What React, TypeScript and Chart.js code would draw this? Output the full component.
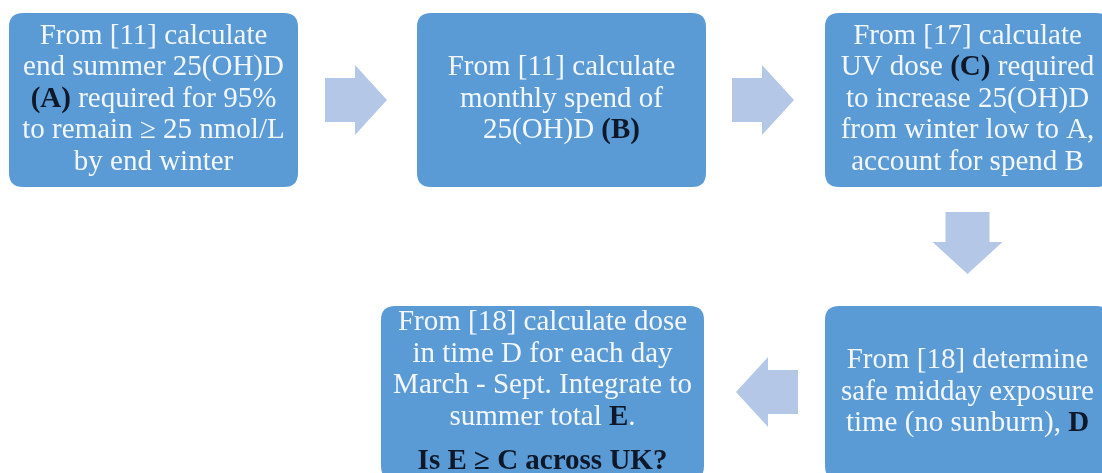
import React, { useEffect, useRef } from 'react';
import { Chart, registerables } from 'chart.js';

Chart.register(...registerables);

// ---- Flowchart content (steps), text uses **...** for dark bold runs, '' for a paragraph gap
const stepNames = ['A', 'B', 'C', 'D', 'E'];
const stepText: string[][] = [
  ['From [11] calculate', 'end summer 25(OH)D', '**(A)** required for 95%', 'to remain ≥ 25 nmol/L', 'by end winter'],
  ['From [11] calculate', 'monthly spend of', '25(OH)D **(B)**'],
  ['From [17] calculate', 'UV dose **(C)** required', 'to increase 25(OH)D', 'from winter low to A,', 'account for spend B'],
  ['From [18] determine', 'safe midday exposure', 'time (no sunburn), **D**'],
  ['From [18] calculate dose', 'in time D for each day', 'March - Sept. Integrate to', 'summer total **E**.', '', '**Is E ≥ C across UK?**'],
];

// node centres on the diagram grid (x: 0..1102, y: 0..473)
const nodeX = [153.5, 561.5, 967.5, 967.5, 542.5];
const nodeY = [100, 100, 100, 393, 393];
const nodeW = [289, 289, 285, 285, 323];
const nodeH = [174, 174, 174, 174, 174];

// connectors between steps
const arrowX = [356, 763, 967.5, 767];
const arrowY = [100, 100, 243, 392];
const arrowDir = ['right', 'right', 'down', 'left'];

const BOX_COLOR = '#5B9BD5';
const ARROW_COLOR = '#B4C7E7';
const TEXT_COLOR = '#F3F7FC';
const DARK_COLOR = '#0E1828';
const FONT = "'Liberation Serif', 'Times New Roman', serif";
const FONT_SIZE = 29;
const LINE_H = 31.5;
const PARA_GAP = 13;
const BASELINE_OFFSET = 6.5;

function parseSegs(line: string) {
  const parts = line.split('**');
  return parts.map((t, i) => ({ t, b: i % 2 === 1 })).filter((s) => s.t.length > 0);
}

function roundRect(ctx: CanvasRenderingContext2D, x: number, y: number, w: number, h: number, r: number) {
  ctx.beginPath();
  ctx.moveTo(x + r, y);
  ctx.lineTo(x + w - r, y);
  ctx.quadraticCurveTo(x + w, y, x + w, y + r);
  ctx.lineTo(x + w, y + h - r);
  ctx.quadraticCurveTo(x + w, y + h, x + w - r, y + h);
  ctx.lineTo(x + r, y + h);
  ctx.quadraticCurveTo(x, y + h, x, y + h - r);
  ctx.lineTo(x, y + r);
  ctx.quadraticCurveTo(x, y, x + r, y);
  ctx.closePath();
}

const flowPlugin = {
  id: 'flowchart',
  afterDatasetsDraw(chart: any) {
    const ctx: CanvasRenderingContext2D = chart.ctx;
    const xs = chart.scales.x;
    const ys = chart.scales.y;
    const px = (v: number) => xs.getPixelForValue(v);
    const py = (v: number) => ys.getPixelForValue(v);
    ctx.save();

    // arrows
    const ALEN = 62, ABREADTH = 70, SHAFT = 44, HEAD = 32;
    ctx.fillStyle = ARROW_COLOR;
    arrowX.forEach((ax, i) => {
      const cx = px(ax), cy = py(arrowY[i]);
      const sx = px(ax + 1) - px(ax);
      const L = ALEN * sx, B = ABREADTH * sx, S = SHAFT * sx, H = HEAD * sx;
      const pts: [number, number][] = [
        [-L / 2, -S / 2], [L / 2 - H, -S / 2], [L / 2 - H, -B / 2], [L / 2, 0],
        [L / 2 - H, B / 2], [L / 2 - H, S / 2], [-L / 2, S / 2],
      ];
      const d = arrowDir[i];
      ctx.beginPath();
      pts.forEach(([u, v], k) => {
        let X = 0, Y = 0;
        if (d === 'right') { X = cx + u; Y = cy + v; }
        else if (d === 'left') { X = cx - u; Y = cy + v; }
        else if (d === 'down') { X = cx + v; Y = cy + u; }
        else { X = cx + v; Y = cy - u; }
        if (k === 0) ctx.moveTo(X, Y); else ctx.lineTo(X, Y);
      });
      ctx.closePath();
      ctx.fill();
    });

    // boxes + text
    stepNames.forEach((_, i) => {
      const x0 = px(nodeX[i] - nodeW[i] / 2);
      const x1 = px(nodeX[i] + nodeW[i] / 2);
      const y0 = py(nodeY[i] - nodeH[i] / 2);
      const y1 = py(nodeY[i] + nodeH[i] / 2);
      ctx.fillStyle = BOX_COLOR;
      roundRect(ctx, x0, y0, x1 - x0, y1 - y0, 14);
      ctx.fill();

      const lines = stepText[i];
      const heights = lines.map((l) => (l === '' ? PARA_GAP : LINE_H));
      const total = heights.reduce((a, b) => a + b, 0);
      let cursor = py(nodeY[i]) - total / 2;
      const cx = px(nodeX[i]);
      ctx.textBaseline = 'alphabetic';
      ctx.textAlign = 'left';
      lines.forEach((line, k) => {
        if (line === '') { cursor += PARA_GAP; return; }
        const by = cursor + LINE_H / 2 + BASELINE_OFFSET;
        const segs = parseSegs(line);
        const widths = segs.map((s) => {
          ctx.font = `${s.b ? 'bold ' : ''}${FONT_SIZE}px ${FONT}`;
          return ctx.measureText(s.t).width;
        });
        const tw = widths.reduce((a, b) => a + b, 0);
        let x = cx - tw / 2;
        segs.forEach((s, j) => {
          ctx.font = `${s.b ? 'bold ' : ''}${FONT_SIZE}px ${FONT}`;
          ctx.fillStyle = s.b ? DARK_COLOR : TEXT_COLOR;
          ctx.fillText(s.t, x, by);
          x += widths[j];
        });
        cursor += heights[k];
      });
    });
    ctx.restore();
  },
};

export default function App() {
  const ref = useRef<HTMLCanvasElement | null>(null);
  useEffect(() => {
    document.body.style.margin = '0';
    document.body.style.background = '#ffffff';
    const canvas = ref.current;
    if (!canvas) return;
    const chart = new Chart(canvas, {
      type: 'scatter',
      data: {
        datasets: [
          { label: 'steps', data: nodeX.map((x, i) => ({ x, y: nodeY[i] })), pointRadius: 0 },
          { label: 'arrows', data: arrowX.map((x, i) => ({ x, y: arrowY[i] })), pointRadius: 0 },
        ],
      },
      options: {
        animation: false,
        responsive: false,
        maintainAspectRatio: false,
        devicePixelRatio: 1,
        events: [],
        layout: { padding: 0 },
        plugins: { legend: { display: false }, tooltip: { enabled: false }, title: { display: false } },
        scales: {
          x: { type: 'linear', min: 0, max: 1102, display: false },
          y: { type: 'linear', min: 0, max: 473, reverse: true, display: false },
        },
      },
      plugins: [flowPlugin],
    });
    return () => chart.destroy();
  }, []);
  return (
    <div style={{ width: 1102, height: 473, background: '#ffffff' }}>
      <canvas ref={ref} width={1102} height={473} style={{ display: 'block', width: 1102, height: 473 }} />
    </div>
  );
}
